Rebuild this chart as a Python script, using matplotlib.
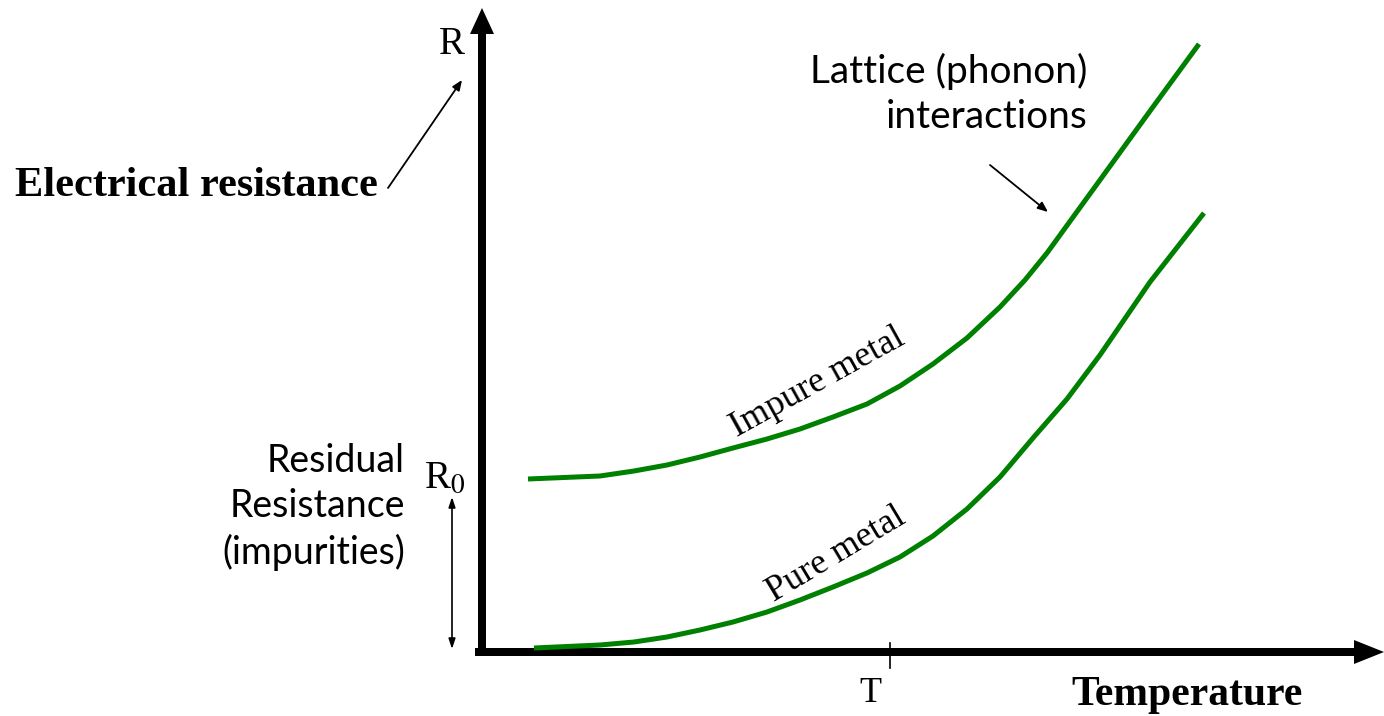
import matplotlib.pyplot as plt

# curve readings (temperature, resistance) in arbitrary units
t_impure = [0.46, 1.18, 1.52, 1.85, 2.18, 2.51, 2.85, 3.18, 3.51, 3.85, 4.18, 4.51, 4.85,
            5.18, 5.43, 5.65, 6.18, 6.68, 7.17]
r_impure = [1.73, 1.76, 1.81, 1.87, 1.95, 2.04, 2.13, 2.23, 2.35, 2.48, 2.66, 2.88, 3.14,
            3.45, 3.72, 3.99, 4.72, 5.41, 6.08]

t_pure = [0.52, 1.18, 1.52, 1.85, 2.18, 2.51, 2.85, 3.18, 3.51, 3.85, 4.18, 4.51, 4.85,
          5.18, 5.51, 5.85, 6.18, 6.68, 7.22]
r_pure = [0.04, 0.07, 0.10, 0.15, 0.22, 0.30, 0.40, 0.52, 0.65, 0.79, 0.95, 1.16, 1.43,
          1.75, 2.14, 2.53, 2.97, 3.70, 4.39]

r0 = 1.55
t_mark = 4.08

serif = "Liberation Serif"
sans = "Lato"

fig = plt.figure(figsize=(13.84, 7.16), dpi=100)
ax = fig.add_axes([0, 0, 1, 1])
ax.set_xlim(-4.82, 9.02)
ax.set_ylim(-0.64, 6.52)
ax.axis("off")

# axes with arrows
ax.arrow(0, -0.04, 0, 6.48, width=0.08, head_width=0.24, head_length=0.26,
         length_includes_head=True, color="black", lw=0)
ax.arrow(-0.07, 0, 9.09, 0, width=0.08, head_width=0.24, head_length=0.3,
         length_includes_head=True, color="black", lw=0)

ax.plot(t_impure, r_impure, color="green", lw=3.6, solid_capstyle="butt")
ax.plot(t_pure, r_pure, color="green", lw=3.6, solid_capstyle="butt")

# T tick
ax.plot([t_mark, t_mark], [-0.16, 0.09], color="black", lw=1.2)
ax.text(t_mark - 0.2, -0.41, "T", fontsize=26, family=serif, ha="center", va="center")
ax.text(7.05, -0.43, "Temperature", fontsize=30, family=serif, weight="bold",
        ha="center", va="center")

# R label
ax.text(-0.3, 6.07, "R", fontsize=28, family=serif, ha="center", va="center")
ax.text(-2.86, 4.66, "Electrical resistance", fontsize=30.5, family=serif, weight="bold",
        ha="center", va="center")
ax.annotate("", xy=(-0.2, 5.72), xytext=(-0.94, 4.64),
            arrowprops=dict(arrowstyle="-|>,head_length=0.6,head_width=0.25", lw=1.3, color="black",
                            shrinkA=0, shrinkB=0))

# residual resistance
ax.text(-0.37, 1.74, r"R$_0$", fontsize=28, family=serif, ha="center", va="center",
        math_fontfamily="stix")
ax.text(-0.77, 1.45, "Residual\nResistance\n(impurities)", fontsize=27, family=sans,
        ha="right", va="center", linespacing=1.32)
ax.annotate("", xy=(-0.3, 0.03), xytext=(-0.3, r0),
            arrowprops=dict(arrowstyle="<|-|>,head_length=0.6,head_width=0.2", lw=1.2, color="black",
                            shrinkA=0, shrinkB=0))

# lattice label
ax.text(6.05, 5.58, "Lattice (phonon)\ninteractions", fontsize=28, family=sans,
        ha="right", va="center", linespacing=1.32)
ax.annotate("", xy=(5.66, 4.4), xytext=(5.08, 4.87),
            arrowprops=dict(arrowstyle="-|>,head_length=0.6,head_width=0.25", lw=1.3, color="black",
                            shrinkA=0, shrinkB=0))

ax.text(3.36, 2.69, "Impure metal", fontsize=26, family=serif, rotation=29,
        ha="center", va="center")
ax.text(3.54, 0.97, "Pure metal", fontsize=26, family=serif, rotation=31,
        ha="center", va="center")

fig.savefig("out.png", dpi=100)
